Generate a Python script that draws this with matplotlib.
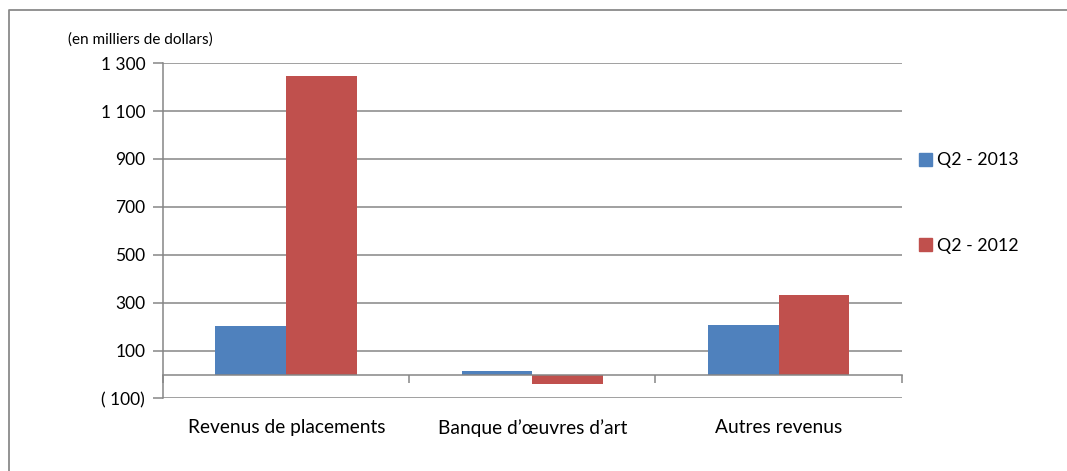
import numpy as np
import matplotlib
matplotlib.use('Agg')
import matplotlib.pyplot as plt
from matplotlib.lines import Line2D
from matplotlib.patches import Patch

plt.rcParams['font.family'] = ['Lato', 'DejaVu Sans']

# données (en milliers de dollars)
categories = ['Revenus de placements', 'Banque d\u2019\u0153uvres d\u2019art', 'Autres revenus']
series_names = ['Q2 - 2013', 'Q2 - 2012']
q2_2013 = [202, 15, 206]
q2_2012 = [1247, -40, 330]
y_ticks = [-100, 100, 300, 500, 700, 900, 1100, 1300]
y_tick_labels = ['( 100)', '100', '300', '500', '700', '900', '1 100', '1 300']

BLUE = '#4F81BD'
RED = '#C0504D'
GRID = '#868686'

fig = plt.figure(figsize=(10.67, 4.71), dpi=100)
ax = fig.add_axes([0.153, 0.154, 0.692, 0.712])

x = np.arange(len(categories))
w = 0.288
ax.bar(x - w / 2, q2_2013, width=w, color=BLUE, zorder=3, label=series_names[0])
ax.bar(x + w / 2, q2_2012, width=w, color=RED, zorder=3, label=series_names[1])

ax.set_xlim(-0.5, len(categories) - 0.5)
ax.set_ylim(-100, 1300)
ax.set_yticks(y_ticks)
ax.set_yticklabels(y_tick_labels, fontsize=12.5)
ax.yaxis.grid(True, color=GRID, linewidth=1.1, zorder=0)
ax.tick_params(axis='y', length=7, color=GRID, width=1.1, pad=6)

# axe des x sur la ligne du zéro, graduations entre les catégories
for s in ['top', 'right']:
    ax.spines[s].set_visible(False)
ax.spines['left'].set_color(GRID)
ax.spines['left'].set_linewidth(1.1)
ax.spines['bottom'].set_position(('data', 0))
ax.spines['bottom'].set_color(GRID)
ax.spines['bottom'].set_linewidth(1.1)
ax.spines['bottom'].set_zorder(4)
ax.set_xticks(np.arange(len(categories) + 1) - 0.5)
ax.set_xticklabels([])
ax.tick_params(axis='x', length=6, color=GRID, width=1.1, direction='out')

for xi, cat in zip(x, categories):
    ax.text(xi, -0.088, cat, transform=ax.get_xaxis_transform(),
            ha='center', va='center', fontsize=13.8)

fig.text(0.064, 0.915, '(en milliers de dollars)', fontsize=11, ha='left', va='center')

handles = [Patch(color=BLUE), Patch(color=RED)]
fig.legend(handles, series_names, loc='center left', bbox_to_anchor=(0.846, 0.569),
           frameon=False, fontsize=12.8, handlelength=0.75, handleheight=0.75,
           handletextpad=0.3, labelspacing=3.9)

# cadre du graphique
fy = 1 - 10 / 471
fx = 9 / 1067
fig.add_artist(Line2D([fx, fx, 1], [0, fy, fy], transform=fig.transFigure,
                      color='#8a8a8a', linewidth=1.3))

fig.savefig('out.png', dpi=100)
